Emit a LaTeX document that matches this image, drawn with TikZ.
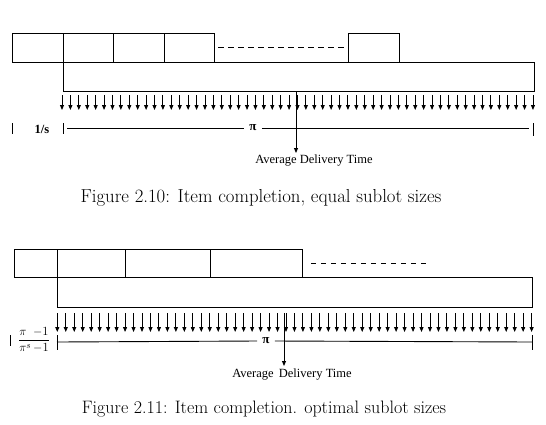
\documentclass[tikz,border=0pt]{standalone}
\usepackage{fontspec}
\setmainfont{Latin Modern Roman}
\newfontfamily\figfont{Liberation Serif}
\usetikzlibrary{arrows.meta}
\tikzset{
  ln/.style={line width=0.9pt},
  drop/.style={ln,-{Triangle[length=5pt,width=4pt]}},
  lbl/.style={font=\figfont\fontsize{12.5}{14}\selectfont, inner sep=0pt},
  pilbl/.style={font=\figfont\bfseries\fontsize{13}{14}\selectfont, inner sep=0pt},
  captext/.style={font=\fontsize{18.8}{22}\selectfont, inner sep=0pt},
  dsh/.style={ln,dash pattern=on 6pt off 4pt}
}
\begin{document}
\begin{tikzpicture}[x=1pt,y=-1pt]
\useasboundingbox (0,0) rectangle (546,424);
% ---------- Figure 2.10 ----------
\foreach \a/\b in {12/63,63/113,113/164,164/214,348/399}
  \draw[ln] (\a,33) rectangle (\b,62);
\draw[dsh] (218,47) -- (345,47);
\draw[ln] (63,62) rectangle (534,91);
\foreach \k in {0,...,56}
  \draw[drop] ({62+8.41*\k},95) -- ({62+8.41*\k},110);
\draw[ln] (12,123) -- (12,134);
\node[lbl] (s1) at (42,129) {\textbf{1/s}};
\draw[ln] (63,123) -- (63,134);
\node[pilbl] (p1) at (253,128) {π};
\coordinate (l1a) at (67,128);
\coordinate (l1b) at (529,128);
\draw[ln] (l1a) -- ([xshift=-5pt]p1.west);
\draw[ln] ([xshift=5pt]p1.east) -- (l1b);
\draw[ln] (533,123) -- (533,136);
\node[lbl] (avg1) at (314,161) {Average Delivery Time};
\coordinate (t1) at (296,92);
\coordinate (e1) at (296,153);
\draw[drop] (t1) -- (e1);
\node[captext] (cap1) at (261,198) {Figure 2.10: Item completion, equal sublot sizes};
% ---------- Figure 2.11 ----------
\foreach \a/\b in {14/57,57/125,125/210,210/302}
  \draw[ln] (\a,249) rectangle (\b,277);
\draw[ln,dash pattern=on 5pt off 5pt] (311,263) -- (426,263);
\draw[ln] (57,277) rectangle (532,307);
\foreach \k in {0,...,56}
  \draw[drop] ({57.3+8.47*\k},313) -- ({57.3+8.47*\k},332);
\draw[ln] (10,335) -- (10,346);
\node[lbl] (fr) at (34,340) {$\displaystyle\frac{\pi\;\;\mathrm{-1}}{\pi^{s}\,\mathrm{-1}}$};
\draw[ln] (57,335) -- (57,350);
\node[pilbl] (p2) at (266,341) {π};
\coordinate (l2a) at (57,342);
\coordinate (l2b) at (532,342);
\draw[ln] (l2a) -- ([xshift=-5pt]p2.west);
\draw[ln] ([xshift=5pt]p2.east) -- (l2b);
\draw[ln] (532,335) -- (532,350);
\node[lbl] (avg2) at (292,375) {Average\, Delivery Time};
\coordinate (t2) at (284,313);
\coordinate (e2) at (284,366);
\draw[drop] (t2) -- (e2);
\node[captext,font=\fontsize{18}{22}\selectfont] (cap2) at (264,409) {Figure 2.11: Item completion. optimal sublot sizes};
\end{tikzpicture}
\end{document}
